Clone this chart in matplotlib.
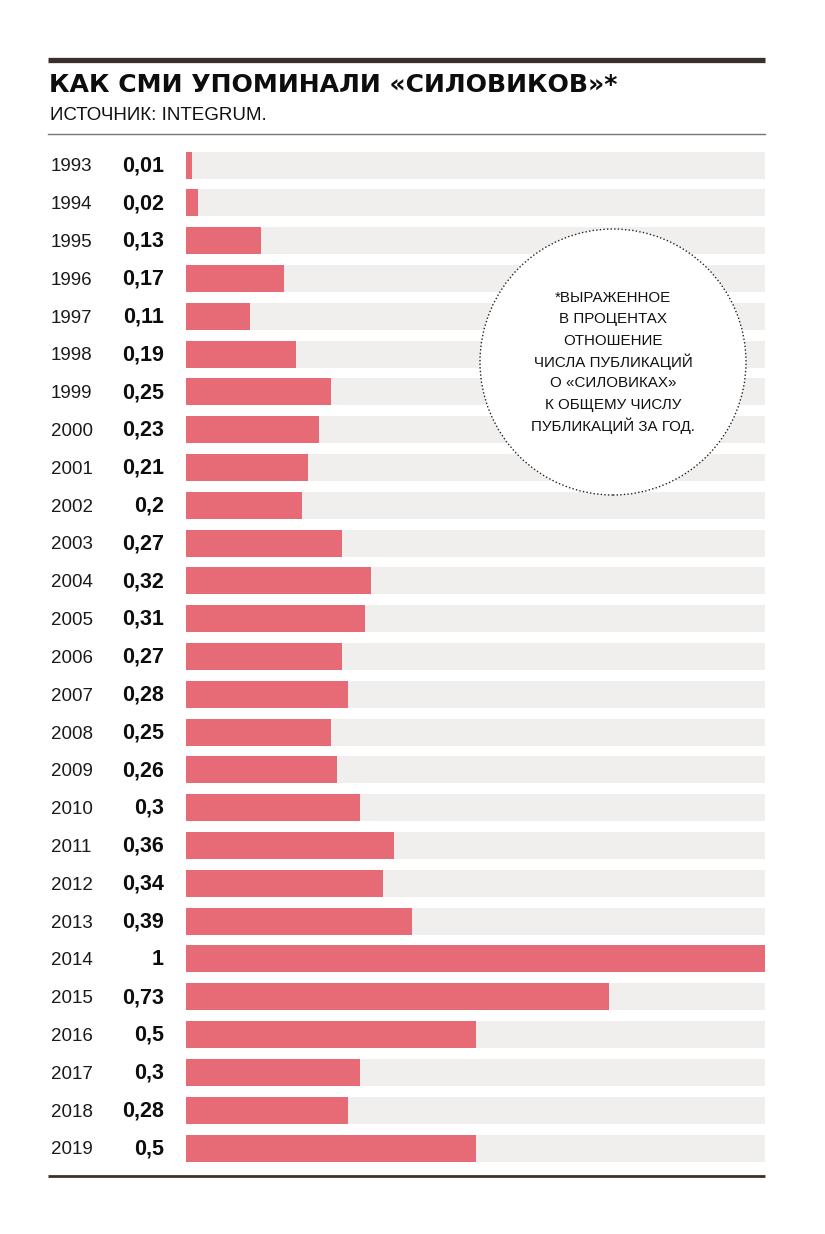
import matplotlib
matplotlib.use("Agg")
import matplotlib.pyplot as plt
from matplotlib import transforms
from matplotlib.patches import Ellipse
from matplotlib.lines import Line2D

years = ["1993", "1994", "1995", "1996", "1997", "1998", "1999", "2000", "2001",
         "2002", "2003", "2004", "2005", "2006", "2007", "2008", "2009", "2010",
         "2011", "2012", "2013", "2014", "2015", "2016", "2017", "2018", "2019"]
values = [0.01, 0.02, 0.13, 0.17, 0.11, 0.19, 0.25, 0.23, 0.21, 0.2, 0.27, 0.32,
          0.31, 0.27, 0.28, 0.25, 0.26, 0.3, 0.36, 0.34, 0.39, 1.0, 0.73, 0.5,
          0.3, 0.28, 0.5]
value_labels = ["0,01", "0,02", "0,13", "0,17", "0,11", "0,19", "0,25", "0,23",
                "0,21", "0,2", "0,27", "0,32", "0,31", "0,27", "0,28", "0,25",
                "0,26", "0,3", "0,36", "0,34", "0,39", "1", "0,73", "0,5", "0,3",
                "0,28", "0,5"]
title = "КАК СМИ УПОМИНАЛИ «СИЛОВИКОВ»*"
subtitle = "ИСТОЧНИК: INTEGRUM."
note_lines = ["*ВЫРАЖЕННОЕ", "В ПРОЦЕНТАХ", "ОТНОШЕНИЕ", "ЧИСЛА ПУБЛИКАЦИЙ",
              "О «СИЛОВИКАХ»", "К ОБЩЕМУ ЧИСЛУ", "ПУБЛИКАЦИЙ ЗА ГОД."]

W, H = 825, 1234
BAR = "#e66b77"
BG = "#f0efed"
DARK = "#3a302b"

fig = plt.figure(figsize=(W / 100, H / 100), dpi=100)
fig.patch.set_facecolor("white")

def fx(px):
    return px / W

def fy(py):
    return 1 - py / H

n = len(years)
row = (1148 - 165) / (n - 1)
top_px = 165 - row / 2
bot_px = 1148 + row / 2
ax = fig.add_axes([fx(186), fy(bot_px), fx(765) - fx(186), (bot_px - top_px) / H])
ax.set_xlim(0, 1)
ax.set_ylim(n - 0.5, -0.5)
ax.axis("off")

idx = list(range(n))
bh = 27 / row
ax.barh(idx, [1.0] * n, height=bh, color=BG, zorder=1)
ax.barh(idx, values, height=bh, color=BAR, zorder=2)

tr = transforms.blended_transform_factory(fig.transFigure, ax.transData)
for i, (y, lab) in enumerate(zip(years, value_labels)):
    ax.text(fx(51), i + 0.05, y, transform=tr, ha="left", va="center",
            fontsize=13.5, family="Liberation Sans", color="#1a1a1a")
    ax.text(fx(164), i + 0.02, lab, transform=tr, ha="right", va="center",
            fontsize=15.5, family="Liberation Sans", fontweight="bold",
            color="#0d0d0d")

# circle note
circ = Ellipse((fx(613), fy(362)), width=266 / W, height=266 / H,
               transform=fig.transFigure, facecolor="white", edgecolor="#222222",
               linestyle=(0, (1, 1.6)), linewidth=1.0, zorder=5, clip_on=False)
ax.add_patch(circ)
for k, line in enumerate(note_lines):
    fig.text(fx(613), fy(298 + k * 21.3), line, ha="center", va="center",
             fontsize=10.9, family="Liberation Sans", color="#111111", zorder=6)

# header
fig.add_artist(Line2D([fx(48), fx(765)], [fy(60), fy(60)], color=DARK,
                      linewidth=3.8, solid_capstyle="butt"))
fig.text(fx(49), fy(85), title, ha="left", va="center", fontsize=18.1,
         family="DejaVu Sans", fontweight="bold", color="#0d0d0d")
fig.text(fx(50), fy(115), subtitle, ha="left", va="center", fontsize=13.5,
         family="Liberation Sans", color="#111111")
fig.add_artist(Line2D([fx(48), fx(765)], [fy(134), fy(134)], color="#7a7370",
                      linewidth=1.0))
fig.add_artist(Line2D([fx(48), fx(765)], [fy(1176), fy(1176)], color=DARK,
                      linewidth=2.0, solid_capstyle="butt"))

fig.savefig("out.png", dpi=100, facecolor="white")
